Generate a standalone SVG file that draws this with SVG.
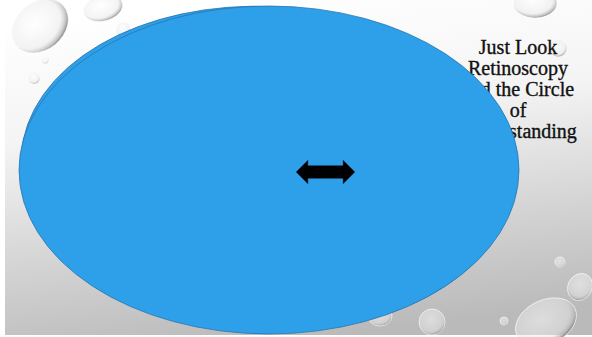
<svg xmlns="http://www.w3.org/2000/svg" width="592" height="337" viewBox="0 0 592 337">
<defs>
<linearGradient id="bg" x1="0.35" y1="0" x2="0.55" y2="1">
<stop offset="0" stop-color="#ffffff"/>
<stop offset="0.35" stop-color="#f4f4f4"/>
<stop offset="0.7" stop-color="#d4d4d4"/>
<stop offset="1" stop-color="#bababa"/>
</linearGradient>
<radialGradient id="drop" cx="0.45" cy="0.4" r="0.6">
<stop offset="0" stop-color="#ffffff" stop-opacity="0.5"/>
<stop offset="0.75" stop-color="#e8e8e8" stop-opacity="0.5"/>
<stop offset="0.92" stop-color="#b5b5b5" stop-opacity="0.8"/>
<stop offset="1" stop-color="#808080" stop-opacity="0.9"/>
</radialGradient>
<style>
.d{fill:url(#drop);stroke:#ffffff;stroke-width:0.8;stroke-opacity:0.8}
.t{font-family:"Liberation Serif","DejaVu Serif",serif;font-size:20px;fill:#111;stroke:#111;stroke-width:0.35;text-anchor:middle}
.ell{fill:#2e9fe9;stroke:#2a76b0;stroke-width:0.8}
</style>
</defs>
<rect width="592" height="337" fill="#ffffff"/>
<rect x="5" y="0" width="587" height="335" fill="url(#bg)"/>
<g id="drops">
<ellipse class="d" cx="40" cy="26" rx="31" ry="24" transform="rotate(-40 40 26)"/>
<ellipse class="d" cx="103" cy="8" rx="20" ry="13" transform="rotate(-15 103 8)"/>
<circle class="d" cx="123" cy="29" r="7"/>
<circle class="d" cx="45" cy="60" r="3.5"/>
<circle class="d" cx="34" cy="78" r="6"/>
<ellipse class="d" cx="535" cy="3" rx="22" ry="15"/>
<circle class="d" cx="558" cy="48" r="9"/>
<circle class="d" cx="560" cy="262" r="5"/>
<ellipse class="d" cx="580" cy="287" rx="12" ry="14" transform="rotate(30 580 287)"/>
<ellipse class="d" cx="546" cy="322" rx="32" ry="22" transform="rotate(-25 546 322)"/>
<circle class="d" cx="504" cy="321" r="4"/>
<circle class="d" cx="432" cy="322" r="13"/>
<ellipse class="d" cx="380" cy="316" rx="12" ry="10"/>
</g>
<g id="title">
<text class="t" x="518" y="53.5">Just Look</text>
<text class="t" x="518" y="74.7">Retinoscopy</text>
<text class="t" x="518" y="95.9">and the Circle</text>
<text class="t" x="518" y="117.1">of</text>
<text class="t" x="518" y="138.3">Understanding</text>
</g>
<g id="circle-back">
<ellipse class="ell" cx="267.5" cy="168.5" rx="246.5" ry="162" transform="rotate(3 267.5 168.5)"/>
</g>
<g id="circle">
<ellipse class="ell" cx="269" cy="170" rx="250" ry="164"/>
</g>
<g id="connectors">
<path d="M296,172 L308,160 L308,165.5 L343,165.5 L343,160 L355,172 L343,184 L343,178.5 L308,178.5 L308,184 Z" fill="#000000" stroke="#1a4f80" stroke-width="0.5"/>
</g>
</svg>
